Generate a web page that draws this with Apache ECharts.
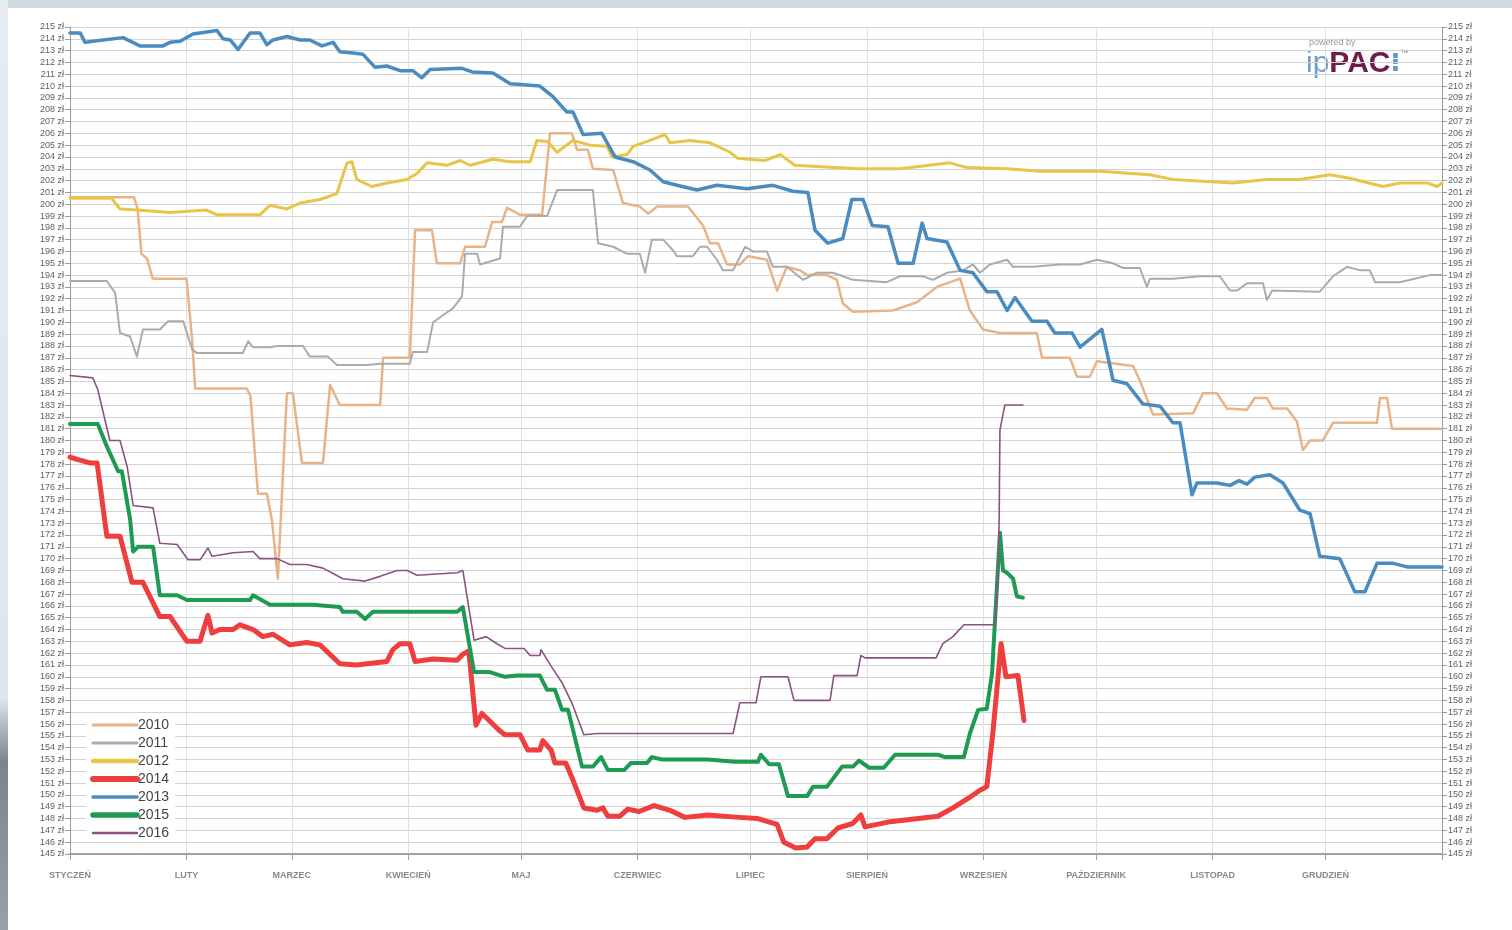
<!DOCTYPE html>
<html><head><meta charset="utf-8">
<script src="https://cdn.jsdelivr.net/npm/echarts@6/dist/echarts.min.js"></script>
<style>html,body{margin:0;padding:0;background:#fff}#c{width:1512px;height:930px}</style>
</head><body><div id="c"></div>
<script>
// Day-of-year (0..365) vs price in zł
const months = ['STYCZEŃ','LUTY','MARZEC','KWIECIEŃ','MAJ','CZERWIEC','LIPIEC','SIERPIEŃ','WRZESIEŃ','PAŹDZIERNIK','LISTOPAD','GRUDZIEŃ'];
const monthStartDays = [0,31,59,90,120,151,181,212,243,273,304,334];
const yearEndDay = 365;
const yMin = 145, yMax = 215;

const s2010 = [[0,200.6],[17,200.6],[18,199.6],[19,195.8],[20.5,195.4],[22,193.7],[31,193.7],[32.5,188.5],[33.3,184.4],[47,184.4],[48,183.8],[50,175.5],[52.4,175.5],[53.7,173.3],[55.3,168.3],[57.7,184.0],[59.3,184.0],[61.7,178.1],[67.3,178.1],[69.2,184.7],[71.8,183.0],[82.5,183.0],[83.3,187.0],[90.4,187.0],[91.8,197.8],[96.3,197.8],[97.6,195.0],[103.8,195.0],[105.1,196.4],[110.4,196.4],[112.3,198.5],[114.9,198.5],[116.3,199.7],[119.7,199.1],[125.6,199.1],[127.7,206.0],[133.5,206.0],[134.9,204.6],[137.8,204.6],[139.1,203.0],[144.5,202.9],[147.1,200.1],[151.6,199.8],[153.8,199.2],[156.2,199.8],[164.4,199.8],[168.4,198.2],[170.3,196.7],[172.4,196.7],[174.8,194.9],[178.2,194.9],[180.4,195.6],[185.4,195.3],[188.1,192.7],[190.7,194.7],[194.2,194.4],[196.1,194.0],[201.4,194.0],[204,193.6],[205.6,191.6],[208.3,190.9],[218.9,191.0],[225.3,191.7],[230.6,193.0],[236.8,193.7],[239.4,191.0],[242.9,189.4],[247.4,189.1],[257.2,189.1],[258.6,187.0],[266,187.0],[267.9,185.4],[271.3,185.4],[273.2,186.7],[282.8,186.3],[284.6,185.1],[288.1,182.2],[298.8,182.3],[301.4,184.0],[305.1,184.0],[307.8,182.7],[313.1,182.6],[315.2,183.6],[318.4,183.6],[320,182.7],[323.8,182.7],[326.4,181.6],[328,179.2],[329.9,180.0],[333.3,180.0],[336,181.5],[347.7,181.5],[348.5,183.6],[350.4,183.6],[351.7,181.0],[365,181.0]];

const s2011 = [[0,193.5],[9.8,193.5],[12,192.5],[13.3,189.1],[16,188.8],[17.8,187.1],[19.4,189.4],[23.9,189.4],[26.1,190.1],[30.1,190.1],[32.5,187.7],[33.8,187.4],[46,187.4],[47.4,188.4],[48.7,187.9],[53.2,187.9],[55.1,188.0],[62,188.0],[63.8,187.1],[68.6,187.1],[71,186.4],[74.5,186.4],[79,186.4],[82.5,186.5],[90.4,186.5],[91.2,187.5],[95,187.5],[96.6,190.0],[99.2,190.6],[101.9,191.2],[104.3,192.2],[105.1,195.8],[108.3,195.8],[109.1,194.9],[114.4,195.4],[115.2,198.1],[119.7,198.1],[121.6,199.0],[126.9,199.0],[129.6,201.2],[139.1,201.2],[140.5,196.7],[144.5,196.4],[148.2,195.8],[151.6,195.8],[153,194.2],[154.8,197.0],[157.8,197.0],[160.4,196.1],[161.5,195.6],[165.7,195.6],[167.6,196.4],[169.5,196.4],[172.1,195.3],[173.7,194.4],[176.4,194.4],[179.6,196.4],[181.7,196.0],[185.4,196.0],[187,194.7],[190.7,194.7],[195,193.6],[198.7,194.2],[203,194.2],[208.3,193.6],[217.3,193.4],[220.8,193.9],[226.9,193.9],[229.6,193.6],[233.3,194.2],[237.6,194.4],[240.2,194.9],[242.1,194.2],[244.7,194.9],[249.3,195.3],[250.9,194.7],[256.2,194.7],[263.4,194.9],[268.7,194.9],[273.2,195.3],[277.5,195.0],[280.1,194.6],[284.6,194.6],[286.5,193.0],[287.3,193.7],[293.4,193.7],[300.6,193.9],[305.9,193.9],[308.6,192.7],[310.5,192.7],[313.1,193.3],[317.4,193.3],[318.4,191.9],[319.8,192.7],[332.5,192.6],[336,193.9],[339.7,194.7],[343.2,194.4],[345.8,194.4],[347.2,193.4],[353.8,193.4],[361.8,194.0],[365,194.0]];

const s2012 = [[0,200.5],[11,200.5],[13.3,199.6],[18.1,199.5],[26.6,199.3],[36.4,199.5],[39.1,199.1],[50.5,199.1],[53.2,199.9],[57.7,199.6],[61.2,200.1],[66.5,200.4],[71,200.9],[73.7,203.5],[75,203.6],[76.3,202.1],[80.3,201.5],[84.3,201.8],[89.7,202.1],[92.3,202.6],[95,203.5],[100.3,203.3],[103.8,203.7],[106.4,203.3],[112.5,203.8],[117.1,203.6],[122.4,203.6],[124.2,205.4],[127,205.3],[129.6,204.4],[133.8,205.4],[138.3,205.0],[142.9,204.9],[144.2,204.0],[148.2,204.2],[149.8,204.9],[154.3,205.4],[158.3,205.9],[159.6,205.2],[164.9,205.4],[170.3,205.2],[175.6,204.4],[177.5,203.9],[184.8,203.7],[189,204.2],[192.8,203.3],[198.7,203.2],[210.2,203.0],[220.8,203.0],[234.1,203.5],[238.6,203.1],[249.3,203.0],[258,202.8],[274,202.8],[287.3,202.5],[293.4,202.1],[309.4,201.8],[318.4,202.1],[327.2,202.1],[335.2,202.5],[340.5,202.2],[349.3,201.5],[353.8,201.8],[361,201.8],[363.7,201.5],[365,201.8]];

const s2013 = [[0,214.5],[2.7,214.5],[4,213.7],[6.1,213.8],[14.1,214.1],[18.6,213.4],[24.7,213.4],[26.6,213.7],[29.3,213.8],[32.7,214.4],[39.1,214.7],[40.7,214.0],[42.6,213.9],[44.7,213.1],[47.9,214.5],[50.5,214.5],[52.4,213.5],[54,213.9],[57.7,214.2],[61.2,213.9],[63.8,213.9],[67,213.4],[70,213.7],[71.8,212.9],[75.3,212.8],[77.9,212.7],[81.1,211.6],[84.3,211.7],[87.8,211.3],[91.2,211.3],[93.6,210.7],[95.8,211.4],[104.3,211.5],[107,211.2],[112.5,211.1],[117.1,210.2],[121.6,210.1],[125,210.0],[128.5,209.1],[132.2,207.8],[133.8,207.8],[136.5,205.9],[141.5,206.0],[145,204.0],[149.8,203.6],[154.3,202.9],[157.8,201.9],[161.5,201.6],[166.8,201.2],[172.1,201.6],[180.1,201.3],[187,201.6],[192.3,201.1],[196.3,201.0],[198.2,197.8],[201.6,196.7],[205.6,197.1],[208,200.4],[211,200.4],[213.4,198.2],[217.6,198.1],[220.3,195.0],[224.3,195.0],[226.7,198.4],[228,197.1],[233.3,196.8],[236.8,194.4],[240.2,194.2],[243.9,192.6],[246.6,192.6],[249.3,191.0],[251.4,192.1],[255.9,190.1],[259.9,190.1],[262,189.1],[266.6,189.1],[268.7,187.9],[274.5,189.4],[277.5,185.1],[281.2,184.8],[285.4,183.1],[290,182.9],[293.4,181.5],[295.3,181.5],[298.5,175.4],[299.8,176.4],[305.1,176.4],[308.6,176.2],[311,176.6],[313.1,176.3],[315.2,176.9],[319.2,177.1],[322.7,176.4],[327.2,174.1],[329.9,173.8],[332.5,170.2],[337.8,170.0],[341.8,167.2],[344.5,167.2],[347.7,169.6],[352,169.6],[355.7,169.3],[365,169.3]];

const s2014 = [[0,178.6],[1.9,178.4],[5.3,178.1],[7.2,178.1],[9.8,171.9],[13.3,171.9],[16.5,168.0],[19.4,168.0],[23.9,165.1],[26.6,165.1],[31.1,163.0],[34.6,163.0],[36.7,165.2],[37.8,163.7],[39.9,164.0],[43.4,164.0],[45.2,164.4],[48.7,164.0],[51.3,163.4],[54,163.6],[58.5,162.7],[63,162.9],[66.5,162.7],[71.8,161.1],[76.3,161.0],[79,161.1],[84.3,161.3],[85.9,162.3],[87.8,162.8],[90.4,162.8],[91.8,161.3],[96.6,161.5],[103,161.4],[104.5,161.9],[106.1,162.2],[108,155.9],[109.6,156.9],[112.8,155.9],[114.1,155.5],[115.7,155.1],[119.7,155.1],[121.8,153.8],[125,153.8],[125.8,154.6],[128,153.8],[129,152.7],[131.9,152.7],[133.5,151.5],[136.7,148.9],[140.2,148.7],[141.8,148.9],[143.1,148.2],[146.3,148.2],[148.4,148.8],[151.4,148.6],[155.4,149.1],[159.6,148.7],[163.6,148.1],[169.7,148.3],[178,148.1],[183,148.0],[188.1,147.5],[189.9,146.0],[193.1,145.5],[196.1,145.6],[198.2,146.3],[201.4,146.3],[204.3,147.2],[208.3,147.6],[210.4,148.3],[211.5,147.3],[217.6,147.7],[230.9,148.2],[234.9,148.9],[238.9,149.7],[242.1,150.4],[243.9,150.7],[245.5,155.2],[247.7,162.8],[249,160.0],[252.2,160.1],[253.8,156.3]];

const s2015 = [[0,181.4],[7.4,181.4],[9.8,179.5],[12.8,177.4],[13.8,177.4],[16,173.3],[16.8,170.6],[18.1,171.0],[22.1,171.0],[23.9,166.9],[28.5,166.9],[31.1,166.5],[47.9,166.5],[48.7,166.9],[53.2,166.1],[64.6,166.1],[71.8,165.9],[72.6,165.5],[76.3,165.5],[78.5,164.9],[80.6,165.5],[103,165.5],[104.5,165.9],[107.5,160.4],[111.7,160.4],[115.7,160.0],[118.9,160.1],[125,160.1],[126.9,158.9],[129,158.9],[130.9,157.2],[132.5,157.2],[136.2,152.4],[139.1,152.4],[141.3,153.2],[143.1,152.1],[147.4,152.1],[149.2,152.7],[153.5,152.7],[154.8,153.2],[157.5,153.0],[169.7,153.0],[176.9,152.8],[183,152.8],[183.8,153.4],[186,152.6],[188.6,152.6],[191,149.9],[196.1,149.9],[197.7,150.7],[201.4,150.7],[205.4,152.4],[208.3,152.4],[209.9,152.9],[212.6,152.3],[216.5,152.3],[219.5,153.4],[230.9,153.4],[232.8,153.2],[237.8,153.2],[239.4,155.2],[241.6,157.2],[243.9,157.3],[245.3,160.3],[247.4,172.2],[248.2,169.0],[249.3,168.8],[250.9,168.3],[251.9,166.8],[253.5,166.7]];

const s2016 = [[0,185.5],[6.1,185.3],[7.4,184.3],[10.6,180.0],[13.3,180.0],[15.2,177.8],[16.8,174.5],[22.1,174.3],[23.9,171.3],[28.5,171.2],[31.4,169.9],[34.6,169.9],[36.7,170.9],[37.8,170.2],[43.4,170.5],[48.7,170.6],[50.5,170.0],[55.1,170.0],[58.5,169.5],[63,169.5],[67.3,169.2],[72.6,168.3],[78.5,168.1],[82.5,168.5],[87,169.0],[89.7,169.0],[92.3,168.6],[103,168.8],[104.5,169.0],[107.5,163.1],[110.7,163.4],[113.6,162.8],[115.7,162.4],[120.8,162.4],[122.4,161.8],[125,161.8],[125.3,162.3],[128,160.9],[130.9,159.5],[133.5,157.8],[136.7,155.1],[140.2,155.2],[176.4,155.2],[178.2,157.8],[182.5,157.8],[183.8,160.0],[191,160.0],[192.6,158.0],[202.2,158.0],[203.2,160.1],[209.4,160.1],[210.4,161.8],[211.5,161.6],[230.4,161.6],[232.2,162.8],[234.9,163.4],[237.8,164.4],[246.1,164.4],[246.9,168.2],[247.2,173.8],[247.4,180.9],[248.7,183.0],[253.5,183.0]];

const legendOrder = ['2010','2011','2012','2014','2013','2015','2016'];

const chart = echarts.init(document.getElementById('c'), null, {renderer:'canvas'});

const styles = {
  '2010':{color:'#e8b487', width:2.5, z:2},
  '2011':{color:'#ababab', width:2, z:2},
  '2012':{color:'#e9c547', width:3, z:3},
  '2013':{color:'#4a8cc0', width:3.5, z:4},
  '2014':{color:'#ee3e3e', width:5, z:5},
  '2015':{color:'#1e9a52', width:4, z:5},
  '2016':{color:'#8b5280', width:1.6, z:6}
};
const legendWidths = {'2010':3,'2011':3,'2012':4.5,'2014':6,'2013':3.5,'2015':5.5,'2016':2.5};

function line(name, data){
  const st = styles[name];
  return {name, type:'line', data, showSymbol:false, symbol:'none', smooth:false, z:st.z,
    lineStyle:{color:st.color, width:st.width, join:'round', cap:'round'}, itemStyle:{color:st.color}, emphasis:{disabled:true}};
}

const font = 'Liberation Sans, Arial, sans-serif';
const yAxisBase = {
  type:'value', min:yMin, max:yMax, interval:1,
  axisLine:{show:true, lineStyle:{color:'#9a9a9a', width:1}},
  axisTick:{show:true, length:5, lineStyle:{color:'#9a9a9a'}},
  axisLabel:{formatter:'{value} zł', fontSize:9, color:'#5e5e5e', fontFamily:font, margin:6}
};

chart.setOption({
  backgroundColor:'#ffffff',
  animation:false,
  grid:{left:70, right:70, top:27, bottom:76, containLabel:false},
  xAxis:{
    type:'value', min:0, max:yearEndDay,
    axisLine:{show:true, onZero:false, lineStyle:{color:'#a0a0a0', width:2}},
    axisTick:{show:true, customValues:monthStartDays.concat([yearEndDay]), length:6, lineStyle:{color:'#a0a0a0'}},
    axisLabel:{customValues:monthStartDays, formatter:v=>months[monthStartDays.indexOf(v)] || '', fontSize:9, fontWeight:'bold', color:'#8a8a8a', margin:17, fontFamily:font},
    splitLine:{show:true, lineStyle:{color:'#e0e0e0', width:1}}
  },
  yAxis:[
    Object.assign({}, yAxisBase, {position:'left', splitLine:{show:true, lineStyle:{color:'#d3d3d3', width:1}}}),
    Object.assign({}, yAxisBase, {position:'right', splitLine:{show:false}})
  ],
  legend:{
    data:legendOrder.map(n=>({name:n, itemStyle:{opacity:0}, lineStyle:{color:styles[n].color, width:legendWidths[n], cap:'round'}})),
    orient:'vertical', left:86, top:716,
    itemWidth:44, itemHeight:14, itemGap:4,
    itemStyle:{opacity:0},
    backgroundColor:'#ffffff', padding:[2,6,2,4],
    textStyle:{fontSize:14, color:'#444', fontFamily:font, padding:[0,0,0,-4]},
    selectedMode:false
  },
  series:[
    line('2010', s2010),
    line('2011', s2011),
    line('2012', s2012),
    line('2013', s2013),
    line('2014', s2014),
    line('2015', s2015),
    line('2016', s2016)
  ],
  graphic:[
    {type:'rect', left:0, top:0, shape:{width:1512, height:8}, style:{fill:'#cfdbe0'}, z:-1},
    {type:'rect', left:0, top:0, shape:{width:8, height:930}, style:{fill:new echarts.graphic.LinearGradient(0,0,0,1,[{offset:0,color:'#e4ecef'},{offset:0.75,color:'#dfe6e9'},{offset:0.82,color:'#7d8388'},{offset:1,color:'#9aa0a4'}])}, z:-1},
    {type:'text', left:1309, top:38, style:{text:'powered by', fontSize:9, fill:'#9a9a9a', fontFamily:font}},
    {type:'text', left:1306, top:49, style:{
      text:'{a|ip}{b|PAC}{c|⁝}{d|™}',
      rich:{
        a:{fontSize:30, fill:'#6f9fc6', fontFamily:font},
        b:{fontSize:30, fontWeight:'bold', fill:'#6b1e4c', fontFamily:font},
        c:{fontSize:26, fontWeight:'bold', fill:'#5f97c4', fontFamily:'DejaVu Sans, sans-serif'},
        d:{fontSize:8, fill:'#666', verticalAlign:'top', fontFamily:font}
      }
    }}
  ]
});
</script></body></html>
